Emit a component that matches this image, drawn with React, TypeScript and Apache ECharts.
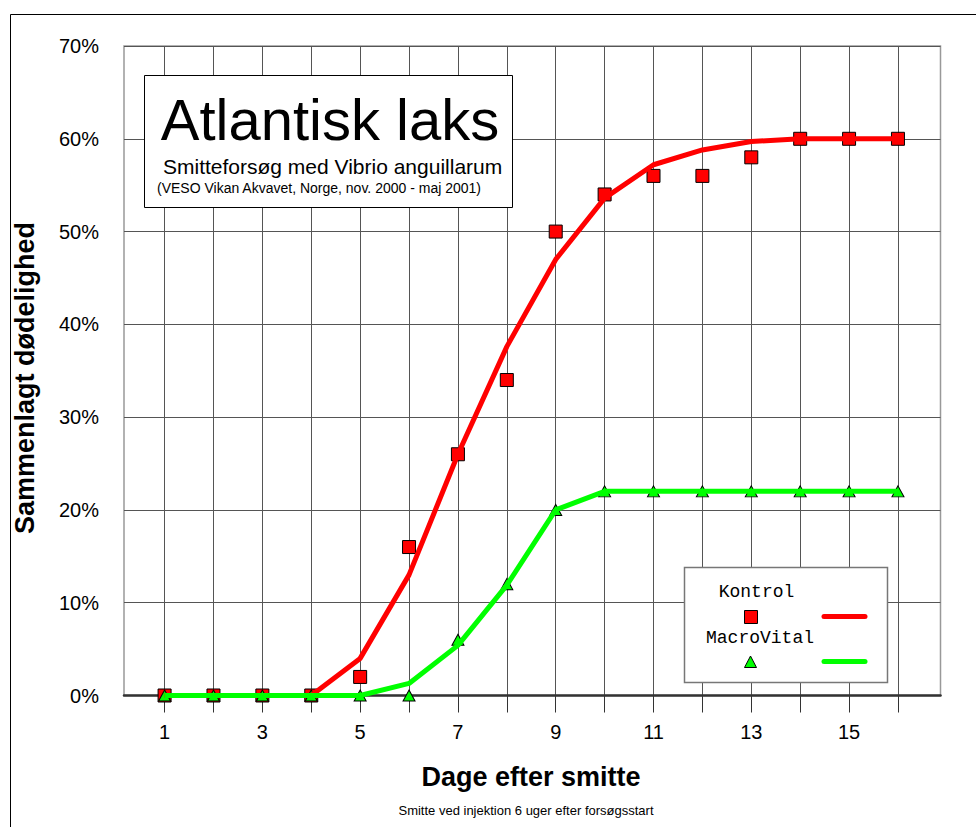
import React, { useEffect, useRef } from "react";
import * as echarts from "echarts";

const days = [1, 2, 3, 4, 5, 6, 7, 8, 9, 10, 11, 12, 13, 14, 15, 16];
const kontrolObserved = [0, 0, 0, 0, 2, 16, 26, 34, 50, 54, 56, 56, 58, 60, 60, 60];
const kontrolFit = [0, 0, 0, 0, 4, 13, 26, 37.6, 47, 53.6, 57.2, 58.8, 59.7, 60, 60, 60];
const macroObserved = [0, 0, 0, 0, 0, 0, 6, 12, 20, 22, 22, 22, 22, 22, 22, 22];
const macroFit = [0, 0, 0, 0, 0, 1.3, 5.4, 11.9, 20, 22, 22, 22, 22, 22, 22, 22];
const xTickValues = [1, 2, 3, 4, 5, 6, 7, 8, 9, 10, 11, 12, 13, 14, 15, 16];
const xLabelValues = [1, 3, 5, 7, 9, 11, 13, 15];

const SANS = "'Liberation Sans', Arial, sans-serif";
const MONO = "'Liberation Mono', 'Courier New', monospace";

const pair = (ys: number[]) => days.map((d, i) => [d, ys[i]]);

export default function App() {
  const ref = useRef<HTMLDivElement>(null);
  useEffect(() => {
    document.body.style.margin = "0";
    if (!ref.current) return;
    const chart = echarts.init(ref.current, null, { renderer: "svg" });
    chart.setOption({
      animation: false,
      backgroundColor: "#fff",
      grid: {
        left: 124,
        right: 35.5,
        top: 46,
        bottom: 131.5,
        show: true,
        borderColor: "#999",
        borderWidth: 1.5,
        containLabel: false,
        outerBoundsMode: "none",
      },
      xAxis: {
        type: "value",
        min: 0.17,
        max: 16.87,
        axisLine: { show: true, onZero: false, lineStyle: { color: "#333", width: 2.5 } },
        axisTick: {
          show: true,
          customValues: xTickValues,
          length: 17,
          lineStyle: { color: "#333", width: 1 },
        },
        axisLabel: {
          customValues: xLabelValues,
          fontSize: 20,
          color: "#000",
          margin: 26,
          fontFamily: SANS,
        },
        splitLine: { show: true, lineStyle: { color: "#555", width: 1 } },
      },
      yAxis: {
        type: "value",
        min: 0,
        max: 70,
        interval: 10,
        axisLine: { show: false },
        axisTick: { show: false },
        axisLabel: {
          formatter: "{value}%",
          fontSize: 20,
          color: "#000",
          margin: 25,
          fontFamily: SANS,
        },
        splitLine: { show: true, lineStyle: { color: "#555", width: 1 } },
      },
      series: [
        {
          name: "Kontrol fit",
          type: "line",
          data: pair(kontrolFit),
          showSymbol: false,
          lineStyle: { color: "#ff0000", width: 5 },
          itemStyle: { color: "#ff0000" },
          silent: true,
        },
        {
          name: "Kontrol",
          type: "scatter",
          data: pair(kontrolObserved),
          symbol: "rect",
          symbolSize: 13,
          itemStyle: { color: "#ff0000", borderColor: "#000", borderWidth: 1, opacity: 1 },
          silent: true,
        },
        {
          name: "MacroVital",
          type: "scatter",
          data: pair(macroObserved),
          symbol: "triangle",
          symbolSize: [12, 11],
          itemStyle: { color: "#00ff00", borderColor: "#000", borderWidth: 1, opacity: 1 },
          silent: true,
        },
        {
          name: "MacroVital fit",
          type: "line",
          data: pair(macroFit),
          showSymbol: false,
          lineStyle: { color: "#00ff00", width: 5 },
          itemStyle: { color: "#00ff00" },
          silent: true,
        },
      ],
      graphic: [
        {
          type: "rect",
          z: 100,
          silent: true,
          shape: { x: 10.5, y: 14.5, width: 1200, height: 1200 },
          style: { fill: "none", stroke: "#000", lineWidth: 1 },
        },
        {
          type: "rect",
          z: 100,
          shape: { x: 144.5, y: 75.5, width: 368, height: 132 },
          style: { fill: "#fff", stroke: "#000", lineWidth: 1 },
        },
        {
          type: "text",
          z: 101,
          x: 330,
          y: 119,
          style: {
            text: "Atlantisk laks",
            font: `58px ${SANS}`,
            fill: "#000",
            align: "center",
            verticalAlign: "middle",
          },
        },
        {
          type: "text",
          z: 101,
          x: 163,
          y: 166,
          style: {
            text: "Smitteforsøg med Vibrio anguillarum",
            font: `21px ${SANS}`,
            fill: "#000",
            align: "left",
            verticalAlign: "middle",
          },
        },
        {
          type: "text",
          z: 101,
          x: 157,
          y: 188,
          style: {
            text: "(VESO Vikan Akvavet, Norge, nov. 2000 - maj 2001)",
            font: `14px ${SANS}`,
            fill: "#000",
            align: "left",
            verticalAlign: "middle",
          },
        },
        {
          type: "rect",
          z: 100,
          shape: { x: 684.5, y: 567.5, width: 203, height: 115 },
          style: { fill: "#fff", stroke: "#777", lineWidth: 1.5 },
        },
        {
          type: "text",
          z: 101,
          x: 756.5,
          y: 592,
          style: {
            text: "Kontrol",
            font: `18px ${MONO}`,
            fill: "#000",
            align: "center",
            verticalAlign: "middle",
          },
        },
        {
          type: "rect",
          z: 101,
          shape: { x: 744.5, y: 610.5, width: 13, height: 13 },
          style: { fill: "#ff0000", stroke: "#000", lineWidth: 1 },
        },
        {
          type: "line",
          z: 101,
          shape: { x1: 824, y1: 616.5, x2: 865, y2: 616.5 },
          style: { stroke: "#ff0000", lineWidth: 5, lineCap: "round" },
        },
        {
          type: "text",
          z: 101,
          x: 760,
          y: 638,
          style: {
            text: "MacroVital",
            font: `18px ${MONO}`,
            fill: "#000",
            align: "center",
            verticalAlign: "middle",
          },
        },
        {
          type: "polygon",
          z: 101,
          shape: { points: [[750.5, 656], [744.5, 667.5], [756.5, 667.5]] },
          style: { fill: "#00ff00", stroke: "#000", lineWidth: 1 },
        },
        {
          type: "line",
          z: 101,
          shape: { x1: 824, y1: 661.5, x2: 865, y2: 661.5 },
          style: { stroke: "#00ff00", lineWidth: 5, lineCap: "round" },
        },
        {
          type: "text",
          z: 101,
          x: 531,
          y: 777,
          style: {
            text: "Dage efter smitte",
            font: `bold 27px ${SANS}`,
            fill: "#000",
            align: "center",
            verticalAlign: "middle",
          },
        },
        {
          type: "text",
          z: 101,
          x: 526,
          y: 810,
          style: {
            text: "Smitte ved injektion 6 uger efter forsøgsstart",
            font: `13px ${SANS}`,
            fill: "#000",
            align: "center",
            verticalAlign: "middle",
          },
        },
        {
          type: "text",
          z: 101,
          x: 25,
          y: 378,
          rotation: Math.PI / 2,
          style: {
            text: "Sammenlagt dødelighed",
            font: `bold 27px ${SANS}`,
            fill: "#000",
            align: "center",
            verticalAlign: "middle",
          },
        },
      ],
    });
    return () => chart.dispose();
  }, []);
  return <div ref={ref} style={{ width: 976, height: 827 }} />;
}
